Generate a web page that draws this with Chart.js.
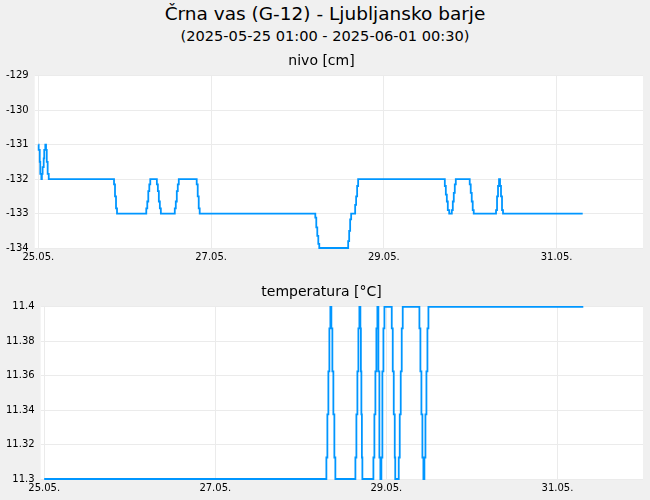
<!DOCTYPE html>
<html>
<head>
<meta charset="utf-8">
<script src="https://cdn.jsdelivr.net/npm/chart.js@4/dist/chart.umd.min.js"></script>
<style>
  body { margin: 0; background: #f0f0f0; font-family: "DejaVu Sans", sans-serif; }
  #wrap { position: relative; width: 650px; height: 500px; }
  #title { position: absolute; top: 4px; left: 0; width: 650px; text-align: center; font-size: 18.5px; line-height: 20px; }
  #subtitle { position: absolute; top: 26.5px; left: 0; width: 650px; text-align: center; font-size: 14.6px; line-height: 18px; }
  .box { position: absolute; left: 0; width: 650px; }
</style>
</head>
<body>
<div id="wrap">
  <div id="title">Črna vas (G-12) - Ljubljansko barje</div>
  <div id="subtitle">(2025-05-25 01:00 - 2025-06-01 00:30)</div>
  <div class="box" style="top:47px"><canvas id="levelChart" width="650" height="225"></canvas></div>
  <div class="box" style="top:278px"><canvas id="tempChart" width="650" height="222"></canvas></div>
</div>
<script>
// hours counted from 25.05. 00:00
let tickHours = [0, 48, 96, 144]
let tickLabels = ['25.05.', '27.05.', '29.05.', '31.05.']

let levelTicks = [-134, -133, -132, -131, -130, -129]
let levelHours = [0, 0.1, 0.4, 0.55, 0.85, 1.0, 1.2, 1.5, 1.65, 1.95, 2.15, 2.35, 2.6, 2.9,
    21.04, 21.31, 21.59, 21.87,
    30.0, 30.28, 30.56, 30.84, 31.11,
    32.94, 33.22, 33.49, 33.77, 34.05,
    37.92, 38.2, 38.48, 38.75, 39.03,
    44.01, 44.29, 44.57, 44.84,
    76.96, 77.23, 77.51, 77.79, 78.06,
    86.09, 86.37, 86.64, 86.92,
    88.03, 88.3, 88.58, 88.86,
    112.94, 113.22, 113.5, 113.77, 114.16,
    114.88, 115.16, 115.43, 115.71, 115.99,
    119.86, 120.14, 120.42, 120.69, 120.97,
    127.17, 127.45, 127.72, 128.0,
    128.28, 128.55, 128.83, 129.11,
    151.25]
let levelValues = [-131, -131.15, -131.5, -131.85, -132, -131.85, -131.65, -131.4, -131.15, -131, -131.15, -131.5, -131.85, -132,
    -132.15, -132.5, -132.85, -133,
    -132.85, -132.65, -132.35, -132.15, -132,
    -132.15, -132.35, -132.65, -132.85, -133,
    -132.85, -132.65, -132.35, -132.15, -132,
    -132.15, -132.5, -132.85, -133,
    -133.12, -133.4, -133.65, -133.88, -134,
    -133.8, -133.5, -133.17, -133,
    -132.75, -132.5, -132.2, -132,
    -132.2, -132.45, -132.65, -132.9, -133,
    -132.9, -132.65, -132.4, -132.15, -132,
    -132.15, -132.4, -132.65, -132.9, -133,
    -132.9, -132.5, -132.2, -132,
    -132.2, -132.5, -132.9, -133,
    -133]

let tempTicks = [11.3, 11.32, 11.34, 11.36, 11.38, 11.4]
let tempHours = [0, 79.17, 79.45, 79.73, 80.01, 80.29, 80.57, 80.85, 81.13, 81.41, 81.69,
    87.31, 87.59, 87.87, 88.15, 88.43, 88.71, 88.85, 88.99, 89.13, 89.27,
    92.36, 92.64, 92.92, 93.2, 93.48, 93.76, 94.04, 94.32, 94.6, 94.88, 95.17, 95.45,
    97.51, 97.79, 98.07, 98.35, 98.49, 99.47, 99.75, 100.03, 100.31, 100.59,
    105.27, 105.55, 105.83, 106.11, 106.39, 106.67, 106.96, 107.24, 107.52, 107.8,
    151.25]
let tempValues = [11.3, 11.3125, 11.3375, 11.3625, 11.3875, 11.4, 11.3875, 11.3625, 11.3375, 11.3125, 11.3,
    11.3125, 11.3375, 11.3625, 11.3875, 11.4, 11.3875, 11.3625, 11.3375, 11.3125, 11.3,
    11.3125, 11.3375, 11.3625, 11.3875, 11.4, 11.3625, 11.3125, 11.3, 11.3125, 11.3625, 11.3875, 11.4,
    11.3875, 11.3625, 11.3375, 11.3125, 11.3, 11.3125, 11.3375, 11.3625, 11.3875, 11.4,
    11.3875, 11.3625, 11.3375, 11.3125, 11.3, 11.3125, 11.3375, 11.3625, 11.3875, 11.4,
    11.4]

Chart.defaults.font.family = '"DejaVu Sans", sans-serif'
Chart.defaults.color = '#000'

// white plot area on the grey page
let plotBg = {
    id: 'plotBg',
    beforeDraw: (chart) => {
        let a = chart.chartArea
        chart.ctx.save()
        chart.ctx.fillStyle = '#fff'
        chart.ctx.fillRect(a.left, a.top, a.width, a.height)
        chart.ctx.restore()
    },
}

function panel(id, title, hours, values, yTicks, padBottom) {
    let points = hours.map((h, i) => ({ x: h, y: values[i] }))
    return new Chart(document.getElementById(id), {
        type: 'line',
        data: {
            datasets: [{
                data: points,
                stepped: true,
                borderColor: '#0096ff',
                borderWidth: 1.8,
                pointRadius: 0,
                fill: false,
                clip: 2,
            }],
        },
        options: {
            responsive: false,
            animation: false,
            layout: { padding: { left: 0, right: 7, bottom: padBottom } },
            plugins: {
                legend: { display: false },
                tooltip: { enabled: false },
                title: {
                    display: true,
                    text: title,
                    font: { size: 14, weight: 'normal' },
                    padding: { top: 6, bottom: 6 },
                },
            },
            scales: {
                x: {
                    type: 'linear',
                    min: -1,
                    max: 168,
                    afterBuildTicks: (scale) => { scale.ticks = tickHours.map(v => ({ value: v })) },
                    ticks: {
                        font: { size: 10 },
                        maxRotation: 0,
                        padding: 3,
                        callback: (v) => tickLabels[tickHours.indexOf(v)],
                    },
                    grid: { color: '#ebebeb', drawTicks: false },
                    border: { display: false },
                },
                y: {
                    min: yTicks[0],
                    max: yTicks[yTicks.length - 1],
                    afterBuildTicks: (scale) => { scale.ticks = yTicks.map(v => ({ value: v })) },
                    ticks: {
                        font: { size: 10 },
                        padding: 6,
                        callback: (v) => String(v),
                    },
                    grid: { color: '#ebebeb', drawTicks: false },
                    border: { display: false },
                },
            },
        },
        plugins: [plotBg],
    })
}

panel('levelChart', 'nivo [cm]', levelHours, levelValues, levelTicks, 6)
panel('tempChart', 'temperatura [°C]', tempHours, tempValues, tempTicks, 3)
</script>
</body>
</html>
